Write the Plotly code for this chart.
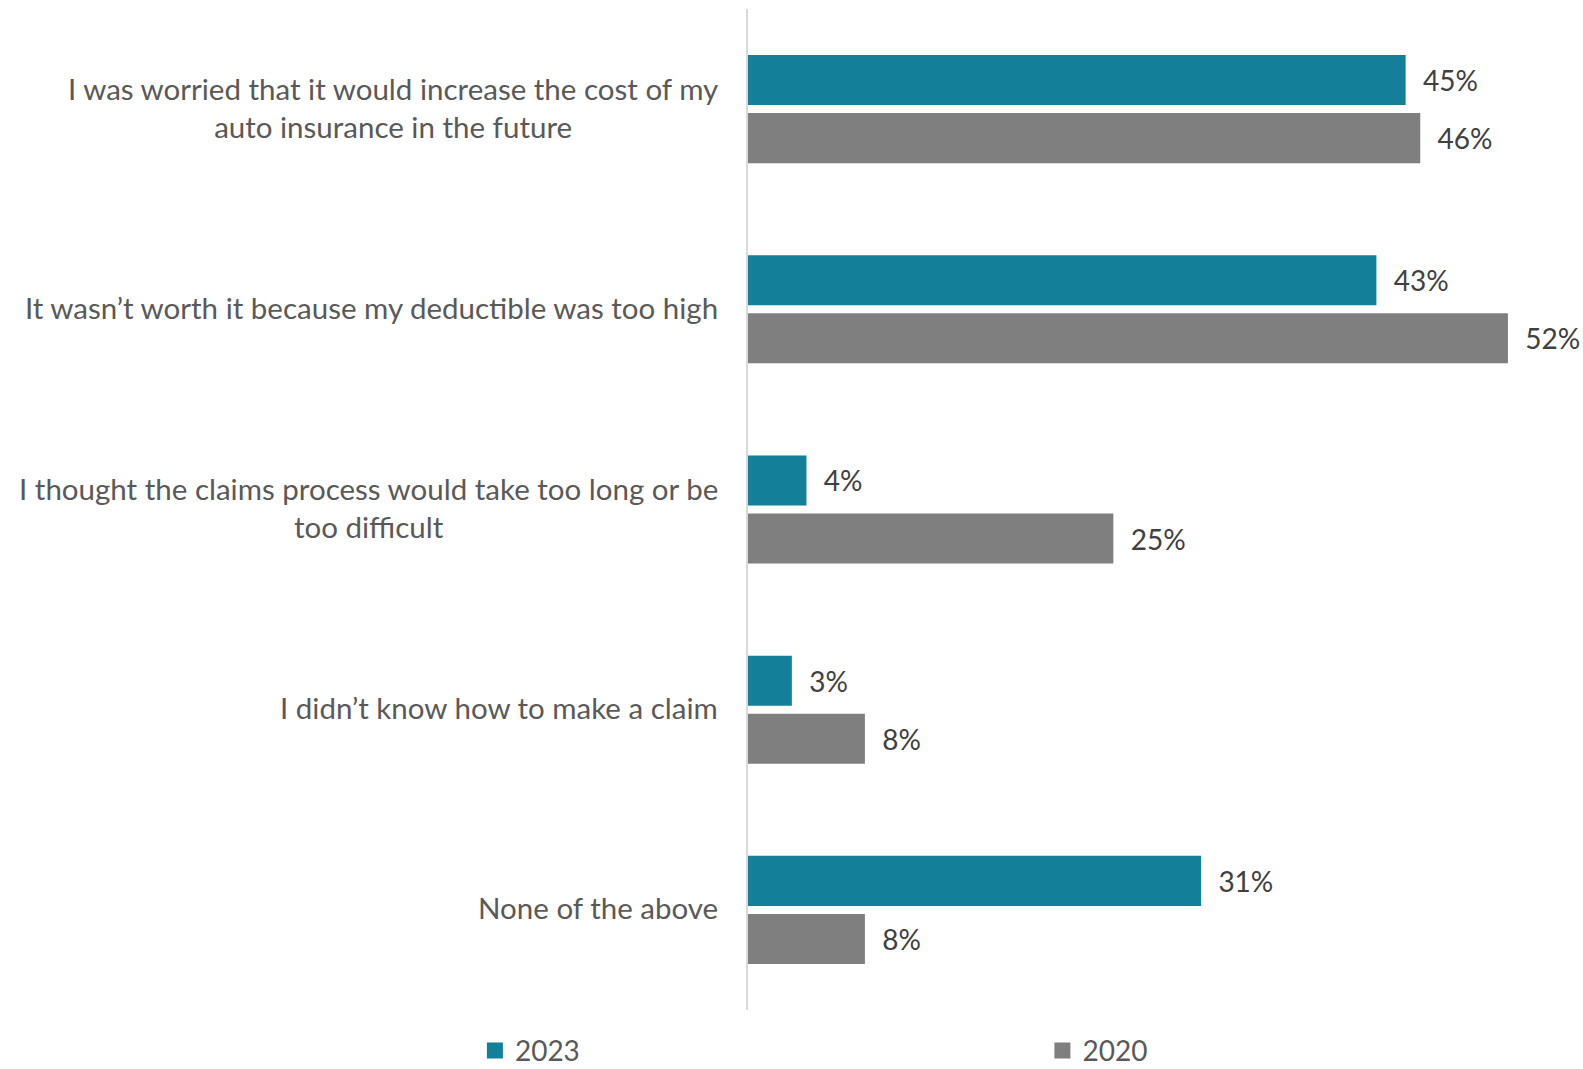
import plotly.graph_objects as go

categories = [
    "I was worried that it would increase the cost of my<br>auto insurance in the future",
    "It wasn\u2019t worth it because my deductible was too high",
    "I thought the claims process would take too long or be<br>too difficult",
    "I didn\u2019t know how to make a claim",
    "None of the above",
]
values_2023 = [45, 43, 4, 3, 31]
values_2020 = [46, 52, 25, 8, 8]
series_names = ["2023", "2020"]

TEAL = "#137F99"
GREY = "#7F7F7F"
FONT = "Lato, 'Open Sans', sans-serif"

fig = go.Figure()
for name, vals, color in [(series_names[0], values_2023, TEAL), (series_names[1], values_2020, GREY)]:
    fig.add_trace(go.Bar(
        name=name,
        x=vals,
        y=categories,
        orientation="h",
        marker=dict(color=color, line=dict(width=0)),
        texttemplate="\u00a0\u00a0%{x}%",
        textposition="outside",
        textfont=dict(size=28, color="#404040", family=FONT),
        cliponaxis=False,
        showlegend=False,
    ))

# legend entries with larger square swatches, one legend per series
for name, color, leg in [(series_names[0], TEAL, "legend"), (series_names[1], GREY, "legend2")]:
    fig.add_trace(go.Scatter(
        name=name,
        x=[None], y=[None],
        mode="markers",
        marker=dict(symbol="square", size=17, color=color),
        legend=leg,
        showlegend=True,
    ))

# category labels, centred line by line, right edge near the axis
for cat in categories:
    fig.add_annotation(
        x=-0.034, xref="paper", xanchor="right",
        y=cat, yref="y", yanchor="middle", yshift=2,
        text=cat, align="center", showarrow=False,
        font=dict(size=29.5, color="#595959", family=FONT),
    )

legend_style = dict(
    orientation="h",
    xref="container", yref="container",
    xanchor="left", yanchor="middle",
    y=0.017,
    font=dict(size=28, color="#595959", family=FONT),
    bgcolor="rgba(0,0,0,0)",
)

fig.update_layout(
    width=1583,
    height=1069,
    margin=dict(l=748, r=2, t=9, b=59, autoexpand=False),
    paper_bgcolor="white",
    plot_bgcolor="white",
    barmode="group",
    bargap=0.42,
    bargroupgap=0.138,
    font=dict(family=FONT, color="#595959"),
    showlegend=True,
    legend=dict(x=0.300, **legend_style),
    legend2=dict(x=0.6585, **legend_style),
)
fig.update_xaxes(
    range=[0, 57],
    showgrid=False,
    zeroline=False,
    showticklabels=False,
    showline=False,
)
fig.update_yaxes(
    categoryorder="array",
    categoryarray=categories,
    autorange="reversed",
    showgrid=False,
    showline=True,
    linecolor="#D9D9D9",
    linewidth=2,
    ticks="",
    showticklabels=False,
)

fig.write_html("out.html")
